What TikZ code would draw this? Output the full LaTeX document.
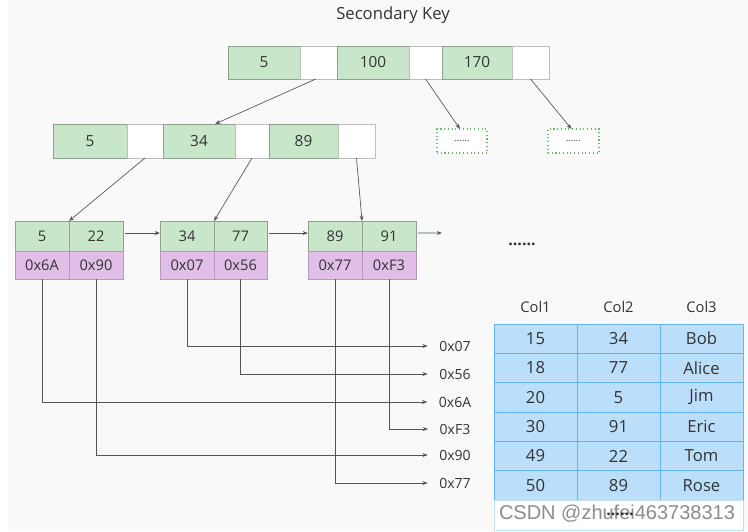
\documentclass[tikz,border=0pt]{standalone}
\usepackage{fontspec}
\setmainfont{Open Sans}
\newfontfamily\wmfont{Liberation Sans}
\usetikzlibrary{arrows.meta}
\definecolor{bgc}{HTML}{F9F9F9}
\definecolor{gfill}{HTML}{C8E6C9}
\definecolor{gline}{HTML}{8FA08F}
\definecolor{pfill}{HTML}{E1BEE7}
\definecolor{pline}{HTML}{B39CB8}
\definecolor{wline}{HTML}{BDBDBD}
\definecolor{bfill}{HTML}{BBDEFB}
\definecolor{bline}{HTML}{64B5F6}
\definecolor{txt}{HTML}{333333}
\definecolor{arr}{HTML}{555555}
\definecolor{dotg}{HTML}{66BB6A}
\begin{document}
\begin{tikzpicture}[x=0.75pt,y=-0.75pt,
  cell/.style 2 args={inner sep=0pt, outer sep=0pt, minimum width=#1*0.75pt, minimum height=#2*0.75pt, text=txt},
  gk/.style={draw=gline, fill=gfill, line width=0.5pt},
  wk/.style={draw=wline, fill=white, line width=0.5pt},
  pk/.style={draw=pline, fill=pfill, line width=0.5pt},
  bk/.style={draw=bline, fill=bfill, line width=0.6pt, font=\fontsize{12.5}{15}\selectfont},
  dk/.style={draw=dotg, dotted, fill=white, line width=0.8pt, font=\fontsize{7}{8}\selectfont},
  ptr/.style={draw=arr, line width=0.5pt, -{Stealth[length=4pt,width=3pt]}},
  lbl/.style={inner sep=0pt, text=txt, font=\fontsize{10.5}{12}\selectfont},
  hdr/.style={inner sep=0pt, text=txt, font=\fontsize{11}{13}\selectfont},
  topf/.style={font=\fontsize{11.5}{14}\selectfont},
  leaff/.style={font=\fontsize{11}{13}\selectfont}
]
\useasboundingbox (0,0) rectangle (748,531);
\fill[bgc] (8,0) rectangle (748,531);

\node[text=txt, font=\fontsize{12.5}{15}\selectfont] (title) at (393,15) {Secondary Key};

% root
\node[cell={72}{33}, gk, topf] (t1) at (264,62.5) {5};
\node[cell={37}{33}, wk] (t1w) at (318.5,62.5) {};
\node[cell={72}{33}, gk, topf] (t2) at (373,62.5) {100};
\node[cell={33}{33}, wk] (t2w) at (425.5,62.5) {};
\node[cell={70}{33}, gk, topf] (t3) at (477,62.5) {170};
\node[cell={37}{33}, wk] (t3w) at (530.5,62.5) {};

% level 2
\node[cell={74}{34}, gk, topf] (l1) at (90,141) {5};
\node[cell={36}{34}, wk] (l1w) at (145,141) {};
\node[cell={72}{34}, gk, topf] (l2) at (199,141) {34};
\node[cell={34}{34}, wk] (l2w) at (252,141) {};
\node[cell={69}{34}, gk, topf] (l3) at (303.5,141) {89};
\node[cell={37}{34}, wk] (l3w) at (356.5,141) {};

% dotted boxes
\node[cell={50}{24}, dk] (d1) at (462,141) {......};
\node[cell={51}{24}, dk] (d2) at (573.5,141) {......};

% leaves
\node[cell={54}{30}, gk, leaff] (lf1a) at (42,236) {5};
\node[cell={54}{30}, gk, leaff] (lf1b) at (96,236) {22};
\node[cell={54}{28}, pk, leaff] (lf1c) at (42,265) {0x6A};
\node[cell={54}{28}, pk, leaff] (lf1d) at (96,265) {0x90};

\node[cell={54}{30}, gk, leaff] (lf2a) at (187,236) {34};
\node[cell={53}{30}, gk, leaff] (lf2b) at (240.5,236) {77};
\node[cell={54}{28}, pk, leaff] (lf2c) at (187,265) {0x07};
\node[cell={53}{28}, pk, leaff] (lf2d) at (240.5,265) {0x56};

\node[cell={54}{30}, gk, leaff] (lf3a) at (335,236) {89};
\node[cell={54}{30}, gk, leaff] (lf3b) at (389,236) {91};
\node[cell={54}{28}, pk, leaff] (lf3c) at (335,265) {0x77};
\node[cell={54}{28}, pk, leaff] (lf3d) at (389,265) {0xF3};

\coordinate (lfend) at (442,233);
\node[text=txt, font=\bfseries\fontsize{12}{14}\selectfont] (more) at (522,244) {......};

% tree connectors
\draw[ptr] ([xshift=-2pt]t1w.south) -- ([xshift=12pt]l2.north);
\draw[ptr] (t2w.south) -- ([xshift=-1.5pt]d1.north);
\draw[ptr] (t3w.south) -- ([xshift=-1.5pt]d2.north);
\draw[ptr] (l1w.south) -- (lf1a.north east);
\draw[ptr] (l2w.south) -- (lf2a.north east);
\draw[ptr] (l3w.south) -- (lf3a.north east);

% sibling links
\draw[ptr, shorten <=1.5pt] ([yshift=2.2pt]lf1b.east) -- ([yshift=2.2pt]lf2a.west);
\draw[ptr, shorten <=1.5pt] ([yshift=2.2pt]lf2b.east) -- ([yshift=2.2pt]lf3a.west);
\draw[ptr, shorten <=1.5pt] ([yshift=2.2pt]lf3b.east) -- (lfend);

% pointer labels
\node[lbl] (p07) at (455,346) {0x07};
\node[lbl] (p56) at (455,374) {0x56};
\node[lbl] (p6A) at (455,402) {0x6A};
\node[lbl] (pF3) at (455,429) {0xF3};
\node[lbl] (p90) at (455,455) {0x90};
\node[lbl] (p77) at (455,483) {0x77};

\draw[ptr, shorten >=8.5pt] (lf2c.south) |- (p07.west);
\draw[ptr, shorten >=8.5pt] (lf2d.south) |- (p56.west);
\draw[ptr, shorten >=8.5pt] (lf1c.south) |- (p6A.west);
\draw[ptr, shorten >=8.5pt] (lf3d.south) |- (pF3.west);
\draw[ptr, shorten >=8.5pt] (lf1d.south) |- (p90.west);
\draw[ptr, shorten >=8.5pt] (lf3c.south) |- (p77.west);

% table
\node[hdr] (h1) at (535.5,307) {Col1};
\node[hdr] (h2) at (618.5,307) {Col2};
\node[hdr] (h3) at (701.5,307) {Col3};
\foreach \r/\a/\b/\c in {1/15/34/Bob, 2/18/77/Alice, 3/20/5/Jim, 4/30/91/Eric, 5/49/22/Tom, 6/50/89/Rose}{
  \pgfmathsetmacro{\yy}{324+29.33*(\r-0.5)}
  \node[cell={83}{29.33}, bk] (c\r-1) at (535.5,\yy) {\a};
  \node[cell={83}{29.33}, bk] (c\r-2) at (618.5,\yy) {\b};
  \node[cell={83}{29.33}, bk] (c\r-3) at (701.5,\yy) {\c};
}
\node[cell={249}{30}, draw=bfill, fill=white, line width=0.6pt] (wm) at (618.5,515) {};
\node[text=black!45, font=\wmfont\fontsize{15}{17}\selectfont] (wmt) at (617,514) {CSDN @zhufei463738313};
\node[text=txt, font=\bfseries\fontsize{12}{14}\selectfont] (tdots) at (620,514) {......};
\end{tikzpicture}
\end{document}
